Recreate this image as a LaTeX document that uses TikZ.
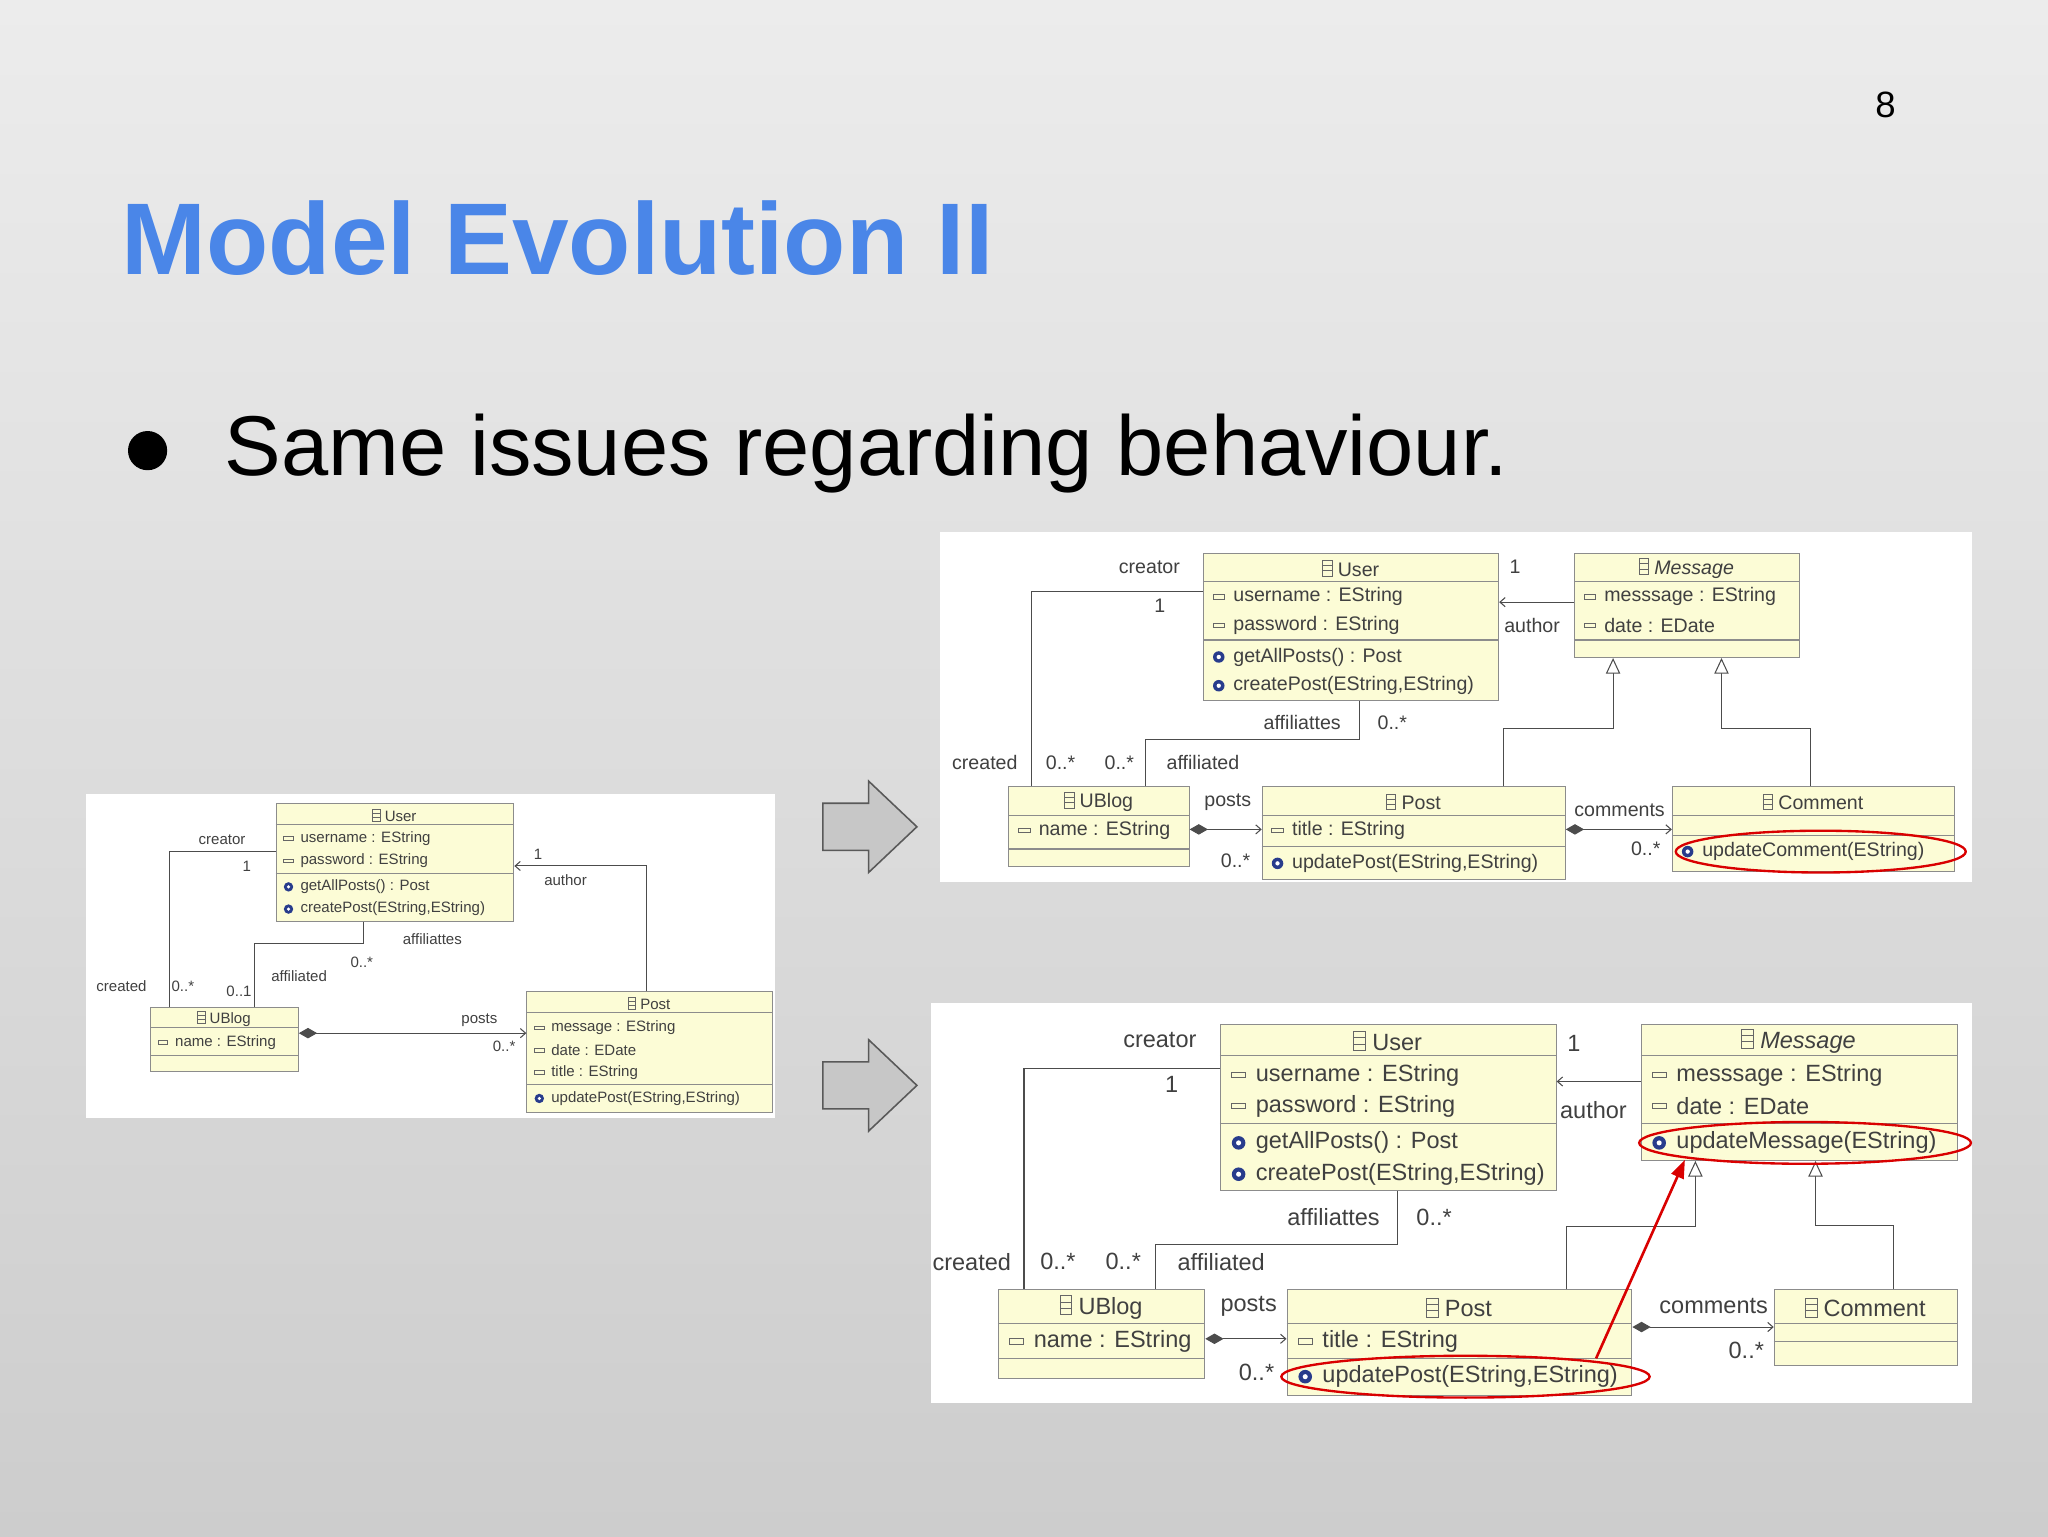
\documentclass[tikz,border=0pt]{standalone}
\usepackage{fontspec}
\setmainfont{Liberation Sans}
\usetikzlibrary{arrows.meta}
\definecolor{clsfill}{RGB}{252,252,214}
\definecolor{titleblue}{RGB}{74,134,232}
\definecolor{gearblue}{RGB}{40,60,140}
\def\uu{1}
\def\fsz{\fontsize{12}{14}\selectfont}
\tikzset{
 classbox/.style={draw=black!45, fill=clsfill, line width=0.8pt, inner sep=0pt},
 lbl/.style={font=\fsz, inner sep=0pt, text=black!75},
 conn/.style={draw=black!70, line width=0.8pt},
 nav/.style={conn, -{Straight Barb[length=4pt,width=7pt]}},
 comp/.style={conn, {Diamond[length=14pt,width=8pt]}-{Straight Barb[length=4pt,width=7pt]}},
 inh/.style={conn, -{Triangle[open,length=12pt,width=11pt,fill=white]}},
 redring/.style={draw=red!85!black, line width=1.8pt},
 blockarrow/.style={draw=black!65, fill=black!22, line width=1.2pt}
}
\newcommand\clsicon{\tikz[baseline=0pt]{\draw[black!60,line width=0.5pt] (0pt,0pt) rectangle (0.5em,0.8em); \draw[black!60,line width=0.5pt] (0pt,0.27em)--(0.5em,0.27em) (0pt,0.54em)--(0.5em,0.54em);}}
\newcommand\cls[8]{%
 \node[classbox, anchor=north west, minimum width={(#4-#2)*1pt}, minimum height={(#5-#3)*1pt}] (#1) at (#2,#3) {};
 \draw[black!45,line width=0.8pt] (#2,#6) -- (#4,#6) (#2,#7) -- (#4,#7);
 \node[lbl] at ({(#2+#4)/2},{(#3+#6)/2+1}) {\clsicon\ #8};}
\newcommand\attr[3]{%
 \draw[black!60, line width=0.6pt] ({#1+7*\uu},{#2-1.5*\uu}) rectangle ({#1+15*\uu},{#2+1.5*\uu});
 \node[lbl, anchor=west] at ({#1+21*\uu},{#2}) {#3};}
\newcommand\op[3]{%
 \fill[gearblue] ({#1+11*\uu},{#2}) circle ({4*\uu});
 \fill[white] ({#1+11*\uu},{#2}) circle ({1.5*\uu});
 \node[lbl, anchor=west] at ({#1+21*\uu},{#2}) {#3};}
\begin{document}
\begin{tikzpicture}[x=1pt,y=-1pt]
\useasboundingbox (0,0) rectangle (1568,1176);
\shade[top color={rgb,255:red,236;green,236;blue,236}, bottom color={rgb,255:red,205;green,205;blue,205}] (0,0) rectangle (1568,1176);
\node[anchor=base east, font=\fontsize{28}{30}\selectfont] (pg) at (1455,90) {8};
\node[anchor=base west, inner sep=0pt, font=\fontsize{78}{84}\selectfont\bfseries, text=titleblue] (title) at (93,210) {Model Evolution II};
\fill (113,345) circle (15);
\node[anchor=base west, inner sep=0pt, font=\fontsize{65}{70}\selectfont] (bt) at (172,364) {Same issues regarding behaviour.};
\fill[white] (66,608) rectangle (593,856);
\fill[white] (720,407) rectangle (1510,675);
\fill[white] (713,768) rectangle (1510,1074);
\draw[blockarrow] (630,615) -- (665,615) -- (665,598) -- (702,633) -- (665,668) -- (665,651) -- (630,651) -- cycle;
\draw[blockarrow] (630,813) -- (665,813) -- (665,796) -- (702,831) -- (665,866) -- (665,849) -- (630,849) -- cycle;

% ===== left diagram =====
\def\uu{0.9}\def\fsz{\fontsize{11.5}{13}\selectfont}
\cls{lU}{211}{615}{393}{705}{631}{669}{User}
\attr{211}{642}{username : EString}\attr{211}{659}{password : EString}
\op{211}{679}{getAllPosts() : Post}\op{211}{696}{createPost(EString,EString)}
\cls{lB}{115}{771}{228}{820}{787}{808}{UBlog}
\attr{115}{798}{name : EString}
\cls{lP}{403}{759}{591}{851}{775}{830}{Post}
\attr{403}{787}{message : EString}\attr{403}{804}{date : EDate}\attr{403}{821}{title : EString}
\op{403}{841}{updatePost(EString,EString)}
\draw[conn] (lU.west |- 0,652) -- (130,652) -- (lB.north -| 130,0);
\draw[conn] (lU.south -| 278,0) -- (278,722) -- (195,722) -- (lB.north -| 195,0);
\draw[nav] (lP.north -| 495,0) -- (495,663) -- (lU.east |- 0,663);
\draw[comp] (lB.east |- 0,791) -- (lP.west |- 0,791);
\node[lbl] at (170,643) {creator};\node[lbl] at (189,663) {1};
\node[lbl] at (93,755) {created};\node[lbl] at (140,755) {0..*};
\node[lbl] at (331,719) {affiliattes};\node[lbl] at (277,737) {0..*};
\node[lbl] at (229,747) {affiliated};\node[lbl] at (183,759) {0..1};
\node[lbl] at (412,654) {1};\node[lbl] at (433,674) {author};
\node[lbl] at (367,781) {posts};\node[lbl] at (386,801) {0..*};

% ===== top right =====
\def\uu{1.1}\def\fsz{\fontsize{15}{17}\selectfont}
\cls{tU}{921}{423}{1147}{536}{445}{490}{User}
\attr{921}{457}{username : EString}\attr{921}{479}{password : EString}
\op{921}{503}{getAllPosts() : Post}\op{921}{525}{createPost(EString,EString)}
\cls{tM}{1205}{423}{1377}{503}{445}{490}{\textit{Message}}
\attr{1205}{457}{messsage : EString}\attr{1205}{479}{date : EDate}
\cls{tB}{772}{602}{910}{663}{624}{650}{UBlog}
\attr{772}{636}{name : EString}
\cls{tP}{966}{602}{1198}{673}{624}{648}{Post}
\attr{966}{636}{title : EString}\op{966}{661}{updatePost(EString,EString)}
\cls{tC}{1280}{602}{1496}{667}{624}{640}{Comment}
\op{1280}{652}{updateComment(EString)}
\draw[conn] (tU.west |- 0,453) -- (790,453) -- (tB.north -| 790,0);
\draw[conn] (tU.south -| 1041,0) -- (1041,566) -- (877,566) -- (tB.north -| 877,0);
\draw[nav] (tM.west |- 0,461) -- (tU.east |- 0,461);
\draw[inh] (tP.north -| 1151,0) -- (1151,558) -- (1235,558) -- (tM.south -| 1235,0);
\draw[inh] (tC.north -| 1386,0) -- (1386,558) -- (1318,558) -- (tM.south -| 1318,0);
\draw[comp] (tB.east |- 0,635) -- (tP.west |- 0,635);
\draw[comp] (tP.east |- 0,635) -- (tC.west |- 0,635);
\node[lbl] at (880,434) {creator};\node[lbl] at (888,464) {1};
\node[lbl] at (754,584) {created};\node[lbl] at (812,584) {0..*};
\node[lbl] at (997,553) {affiliattes};\node[lbl] at (1066,553) {0..*};
\node[lbl] at (857,584) {0..*};\node[lbl] at (921,584) {affiliated};
\node[lbl] at (1160,434) {1};\node[lbl] at (1173,479) {author};
\node[lbl] at (940,614) {posts};\node[lbl] at (946,659) {0..*};
\node[lbl] at (1240,620) {comments};\node[lbl] at (1260,650) {0..*};
\draw[redring] (1394,652) ellipse (111 and 16);

% ===== bottom right =====
\def\uu{1.3}\def\fsz{\fontsize{18}{20}\selectfont}
\cls{bU}{934}{784}{1191}{911}{808}{860}{User}
\attr{934}{823}{username : EString}\attr{934}{847}{password : EString}
\op{934}{875}{getAllPosts() : Post}\op{934}{899}{createPost(EString,EString)}
\cls{bM}{1256}{784}{1498}{888}{808}{860}{\textit{Message}}
\attr{1256}{823}{messsage : EString}\attr{1256}{847}{date : EDate}
\op{1256}{875}{updateMessage(EString)}
\cls{bB}{764}{987}{922}{1055}{1013}{1040}{UBlog}
\attr{764}{1027}{name : EString}
\cls{bP}{985}{987}{1249}{1068}{1013}{1040}{Post}
\attr{985}{1027}{title : EString}\op{985}{1054}{updatePost(EString,EString)}
\cls{bC}{1358}{987}{1498}{1045}{1013}{1027}{Comment}
\draw[conn] (bU.west |- 0,818) -- (784,818) -- (bB.north -| 784,0);
\draw[conn] (bU.south -| 1070,0) -- (1070,953) -- (885,953) -- (bB.north -| 885,0);
\draw[nav] (bM.west |- 0,828) -- (bU.east |- 0,828);
\draw[inh] (bP.north -| 1199,0) -- (1199,939) -- (1298,939) -- (bM.south -| 1298,0);
\draw[inh] (bC.north -| 1450,0) -- (1450,938) -- (1390,938) -- (bM.south -| 1390,0);
\draw[comp] (bB.east |- 0,1025) -- (bP.west |- 0,1025);
\draw[comp] (bP.east |- 0,1016) -- (bC.west |- 0,1016);
\node[lbl] at (888,796) {creator};\node[lbl] at (897,830) {1};
\node[lbl] at (744,966) {created};\node[lbl] at (810,966) {0..*};
\node[lbl] at (1021,932) {affiliattes};\node[lbl] at (1098,932) {0..*};
\node[lbl] at (860,966) {0..*};\node[lbl] at (935,966) {affiliated};
\node[lbl] at (1205,799) {1};\node[lbl] at (1220,850) {author};
\node[lbl] at (956,1000) {posts};\node[lbl] at (962,1051) {0..*};
\node[lbl] at (1312,1000) {comments};\node[lbl] at (1337,1034) {0..*};
\draw[redring] (1382,875) ellipse (127 and 16);
\draw[redring] (1122,1054) ellipse (141 and 16);
\coordinate (ra) at (1222,1040);
\coordinate (rb) at (1290,888);
\draw[red!85!black, line width=2pt, -{Triangle[length=14pt,width=10pt]}] (ra) -- (rb);
\end{tikzpicture}
\end{document}
